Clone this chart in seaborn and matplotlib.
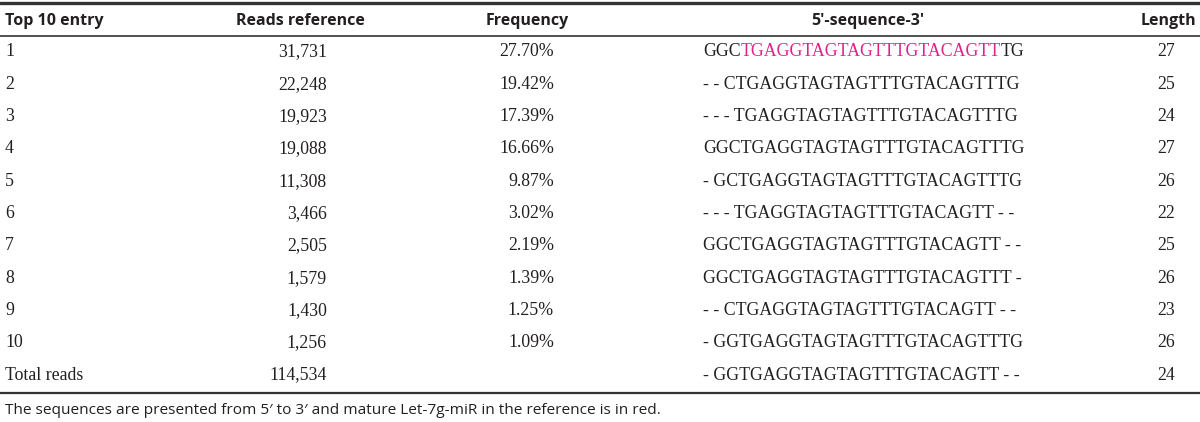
import seaborn as sns
import matplotlib.pyplot as plt

# table data
entries = ['1', '2', '3', '4', '5', '6', '7', '8', '9', '10', 'Total reads']
reads = ['31,731', '22,248', '19,923', '19,088', '11,308', '3,466', '2,505', '1,579', '1,430', '1,256', '114,534']
freqs = ['27.70%', '19.42%', '17.39%', '16.66%', '9.87%', '3.02%', '2.19%', '1.39%', '1.25%', '1.09%', '']
sequences = [
    'GGCTGAGGTAGTAGTTTGTACAGTTTG',
    '- - CTGAGGTAGTAGTTTGTACAGTTTG',
    '- - - TGAGGTAGTAGTTTGTACAGTTTG',
    'GGCTGAGGTAGTAGTTTGTACAGTTTG',
    '- GCTGAGGTAGTAGTTTGTACAGTTTG',
    '- - - TGAGGTAGTAGTTTGTACAGTT - -',
    'GGCTGAGGTAGTAGTTTGTACAGTT - -',
    'GGCTGAGGTAGTAGTTTGTACAGTTT -',
    '- - CTGAGGTAGTAGTTTGTACAGTT - -',
    '- GGTGAGGTAGTAGTTTGTACAGTTTG',
    '- GGTGAGGTAGTAGTTTGTACAGTT - -',
]
lengths = [27, 25, 24, 27, 26, 22, 25, 26, 23, 26, 24]
headers = ['Top 10 entry', 'Reads reference', 'Frequency', '5\u2032-sequence-3\u2032', 'Length']
mature = 'TGAGGTAGTAGTTTGTACAGTT'  # shown in red in row 1
note = 'The sequences are presented from 5\u2032 to 3\u2032 and mature Let-7g-miR in the reference is in red.'

sns.set_theme(style='white')
plt.rcParams['font.family'] = ['Liberation Serif', 'DejaVu Serif']

ink = '#231f20'
pink = '#e0218a'
serif = dict(family=['Liberation Serif', 'DejaVu Serif'], size=12.8, color=ink)
sans_b = dict(family=['Open Sans', 'DejaVu Sans'], size=11.5, weight='bold', color=ink)

fig = plt.figure(figsize=(12, 4.22), dpi=100)
ax = fig.add_axes([0, 0, 1, 1])
ax.set_xlim(0, 1200)
ax.set_ylim(422, 0)
ax.axis('off')

# rules
ax.axhline(3, color='#333333', lw=2.4)
ax.axhline(36, color='#333333', lw=1.2)
ax.axhline(393, color='#333333', lw=1.6)

# header row
hy = 21
ax.text(5, hy, headers[0], ha='left', va='center', **sans_b)
ax.text(300, hy, headers[1], ha='center', va='center', **sans_b)
ax.text(527, hy, headers[2], ha='center', va='center', **sans_b)
ax.text(868, hy, headers[3], ha='center', va='center', **sans_b)
ax.text(1196, hy, headers[4], ha='right', va='center', **sans_b)

# body rows
for i in range(len(entries)):
    y = 52 + i * 32.3
    ax.text(5, y, entries[i], ha='left', va='center', **serif)
    ax.text(327, y, reads[i], ha='right', va='center', **serif)
    if freqs[i]:
        ax.text(554, y, freqs[i], ha='right', va='center', **serif)
    seq = sequences[i]
    if i == 0 and mature in seq:
        k = seq.index(mature)
        t = ax.text(703, y, seq[:k], ha='left', va='center', **serif)
        t = ax.annotate(mature, xy=(1, 0), xycoords=t, ha='left', va='bottom',
                        **{**serif, 'color': pink})
        ax.annotate(seq[k + len(mature):], xy=(1, 0), xycoords=t, ha='left', va='bottom', **serif)
    else:
        ax.text(703, y, seq, ha='left', va='center', **serif)
    ax.text(1166, y, str(lengths[i]), ha='center', va='center', **serif)

# footnote
ax.text(5, 410, note, ha='left', va='center',
        family=['Open Sans', 'DejaVu Sans'], size=11.1, color=ink)

fig.savefig('out.png', dpi=100)
